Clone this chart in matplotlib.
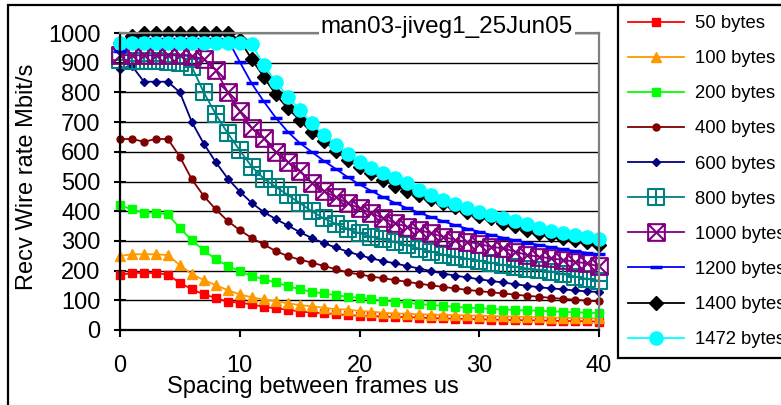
import matplotlib.pyplot as plt
from matplotlib.path import Path
from matplotlib.patches import Rectangle

plt.rcParams['font.family'] = ['Liberation Sans', 'DejaVu Sans']

spacing = list(range(41))
b50 = [185, 192, 192, 192, 186, 159, 137, 120, 108, 95, 92, 86, 78, 73, 69, 62, 59, 56, 54, 50,
       48, 47, 45, 44, 43, 42, 40, 39, 38, 37, 36, 35, 34, 33, 33, 32, 31, 30, 30, 29, 28]
b100 = [249, 255, 255, 255, 252, 218, 188, 168, 151, 134, 120, 110, 103, 97, 90, 84, 80, 75, 70, 69,
        64, 62, 58, 56, 54, 53, 52, 51, 50, 49, 48, 47, 46, 45, 44, 43, 42, 41, 40, 40, 39]
b200 = [420, 406, 395, 395, 389, 343, 302, 268, 238, 216, 198, 182, 171, 160, 148, 137, 129, 123, 117, 112,
        108, 104, 99, 95, 91, 87, 84, 81, 78, 75, 73, 71, 69, 67, 66, 65, 63, 61, 60, 58, 57]
b400 = [643, 643, 634, 643, 643, 583, 507, 451, 406, 367, 336, 310, 288, 266, 249, 237, 227, 216, 205, 194,
        187, 180, 174, 168, 162, 156, 150, 145, 140, 135, 131, 127, 123, 119, 115, 112, 108, 105, 102, 99, 96]
b600 = [880, 889, 836, 836, 836, 800, 700, 627, 565, 510, 466, 428, 397, 374, 352, 330, 310, 293, 278, 264,
        252, 241, 232, 224, 215, 207, 198, 190, 183, 177, 171, 165, 160, 154, 149, 144, 140, 137, 133, 130, 128]
b800 = [910, 905, 905, 905, 903, 900, 886, 800, 726, 662, 605, 550, 510, 482, 455, 428, 400, 376, 358, 340,
        326, 314, 305, 296, 285, 274, 264, 254, 247, 240, 234, 226, 219, 213, 207, 202, 196, 188, 180, 172, 166]
b1000 = [926, 925, 925, 925, 925, 925, 922, 912, 875, 800, 736, 680, 645, 600, 566, 535, 496, 468, 448, 427,
         410, 393, 376, 359, 348, 337, 325, 314, 303, 297, 290, 280, 275, 264, 252, 247, 241, 236, 230, 224, 214]
b1200 = [938, 980, 980, 980, 980, 980, 980, 980, 980, 978, 903, 830, 770, 715, 668, 630, 600, 570, 543, 515,
         490, 468, 447, 427, 410, 395, 380, 366, 353, 341, 331, 320, 311, 302, 294, 286, 279, 272, 266, 260, 255]
b1400 = [966, 990, 1000, 1000, 1000, 1000, 1000, 1000, 1000, 1000, 976, 912, 852, 793, 747, 707, 665, 638, 603, 574,
         550, 530, 505, 486, 468, 455, 440, 427, 413, 398, 385, 376, 361, 349, 338, 327, 320, 310, 304, 297, 285]
b1472 = [965, 965, 965, 965, 965, 965, 965, 965, 965, 965, 965, 962, 892, 836, 786, 741, 696, 657, 623, 593,
         567, 544, 528, 511, 494, 472, 455, 438, 424, 410, 396, 388, 377, 368, 356, 344, 334, 325, 319, 312, 305]

M, L, C = Path.MOVETO, Path.LINETO, Path.CLOSEPOLY
box = [(-1, -1), (1, -1), (1, 1), (-1, 1), (-1, -1)]
sq_plus = Path(box + [(0, -1), (0, 1), (-1, 0), (1, 0)], [M, L, L, L, C, M, L, M, L])
sq_x = Path(box + [(-1, -1), (1, 1), (-1, 1), (1, -1)], [M, L, L, L, C, M, L, M, L])

series = [
    (b50, "50 bytes", "#FF0000", dict(marker="s", ms=5.5)),
    (b100, "100 bytes", "#FF9900", dict(marker="^", ms=7)),
    (b200, "200 bytes", "#00FF00", dict(marker="s", ms=5.5)),
    (b400, "400 bytes", "#800000", dict(marker="o", ms=5)),
    (b600, "600 bytes", "#000080", dict(marker="D", ms=4.5)),
    (b800, "800 bytes", "#008080", dict(marker=sq_plus, ms=12, mfc="none", mew=1.5)),
    (b1000, "1000 bytes", "#800080", dict(marker=sq_x, ms=12, mfc="none", mew=1.5)),
    (b1200, "1200 bytes", "#0000FF", dict(marker="_", ms=8, mew=2.5)),
    (b1400, "1400 bytes", "#000000", dict(marker="D", ms=7)),
    (b1472, "1472 bytes", "#00FFFF", dict(marker="o", ms=9.5)),
]

fig = plt.figure(figsize=(7.81, 4.05), dpi=100)
ax = fig.add_axes([120 / 781, 1 - 330 / 405, 479 / 781, 297 / 405])

for vals, name, col, mk in series:
    ax.plot(spacing, vals, color=col, lw=1.3, label=name, clip_on=False, **mk)

ax.set_xlim(0, 40)
ax.set_ylim(0, 1000)
ax.set_xticks([0, 10, 20, 30, 40])
ax.set_yticks(range(0, 1001, 100))
ax.yaxis.grid(True, color="black", lw=1.0)
ax.set_axisbelow(True)
ax.tick_params(axis="y", direction="inout", length=8, width=1.5, labelsize=17, pad=10)
ax.tick_params(axis="x", direction="out", length=5, width=1.5, labelsize=17, pad=13)
for s in ["left", "bottom"]:
    ax.spines[s].set_color("black")
    ax.spines[s].set_linewidth(1.6)
for s in ["top", "right"]:
    ax.spines[s].set_color("#808080")
    ax.spines[s].set_linewidth(1.6)

fig.text(27 / 781, 1 - 177 / 405, "Recv Wire rate Mbit/s", rotation=90,
         ha="center", va="center", fontsize=17)
fig.text(313 / 781, 1 - 387 / 405, "Spacing between frames us",
         ha="center", va="center", fontsize=17)
fig.text(447 / 781, 1 - 33 / 405, "man03-jiveg1_25Jun05", ha="center", va="baseline",
         fontsize=17.5, bbox=dict(facecolor="white", edgecolor="none", pad=1))

leg = fig.legend(loc="upper left", bbox_to_anchor=(618 / 781, 1 - 5 / 405), fontsize=13.3,
                 handlelength=3.0, handletextpad=0.6, labelspacing=0.98, borderpad=0.55,
                 borderaxespad=0, fancybox=False, framealpha=1)
leg.get_frame().set_edgecolor("black")
leg.get_frame().set_linewidth(1.6)

fig.patches.append(Rectangle((8 / 781, -0.1), 1.2, 1.1 - 5 / 405, transform=fig.transFigure,
                             fill=False, edgecolor="black", lw=1.6))

plt.savefig("out.png", dpi=100)
